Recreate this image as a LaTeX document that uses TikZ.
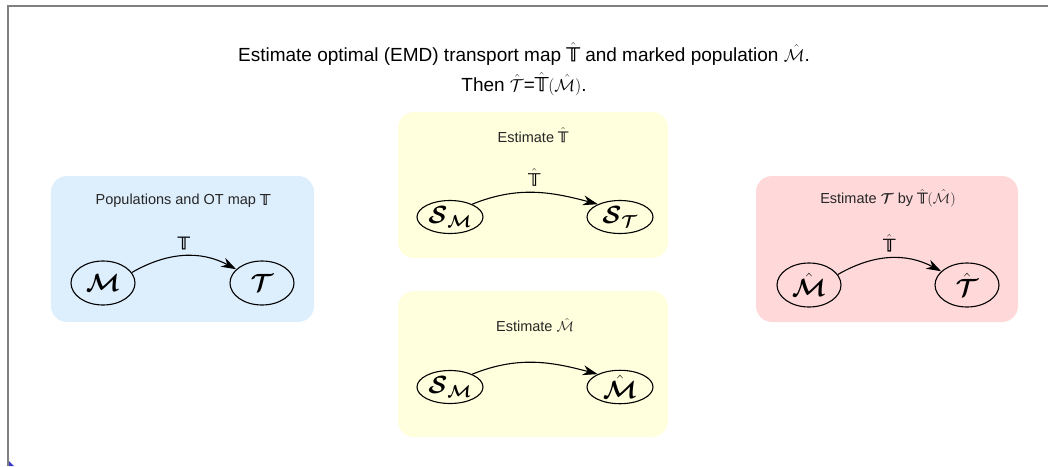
\documentclass[tikz,border=0pt]{standalone}
\usepackage{amsmath,amssymb,bm}
\usepackage{fontspec}
\setmainfont{Liberation Sans}
\newfontface\dejavu[FakeBold=1.2]{DejaVu Sans}
\usetikzlibrary{shapes.geometric,arrows.meta}

% double-struck T set from DejaVu Sans, usable inside math
\newcommand{\mapT}{\text{\dejavu 𝕋}}

\definecolor{paneblue}{RGB}{221,238,253}
\definecolor{paneyellow}{RGB}{255,255,221}
\definecolor{panepink}{RGB}{255,217,218}
\definecolor{framegray}{RGB}{128,128,128}

\tikzset{
  pane/.style={rounded corners=16pt, draw=none},
  pop/.style={ellipse, draw, line width=1.1pt, inner sep=0pt,
              minimum width=64pt, minimum height=44pt, font=\fontsize{23}{25}\selectfont},
  smallpop/.style={pop, minimum width=66pt, minimum height=33pt},
  panetitle/.style={font=\fontsize{14.5}{17}\selectfont, text=black!85},
  maplabel/.style={font=\fontsize{17}{19}\selectfont},
  mapto/.style={-{Stealth[length=15pt,width=10pt]}, line width=1.1pt},
}

\begin{document}
\begin{tikzpicture}[x=1pt,y=-1pt]
\useasboundingbox (0,0) rectangle (1048,466);

% frame edges
\draw[framegray, line width=2pt] (8,466) -- (8,6) -- (1048,6);
\fill[blue!55!gray] (9,461) -- (14,466) -- (9,466) -- cycle;

% heading
\node[font=\fontsize{19}{22}\selectfont] (head1) at (524,54)
  {Estimate optimal (EMD) transport map $\hat{\mapT}$ and marked population $\hat{\mathcal{M}}$.};
\node[font=\fontsize{19}{22}\selectfont] (head2) at (524,84)
  {Then $\hat{\mathcal{T}}$=$\hat{\mapT}(\hat{\mathcal{M}})$.};

% panes
\fill[pane, paneblue]   (51,176)  rectangle (314,322);
\fill[pane, paneyellow] (398,112) rectangle (668,258);
\fill[pane, paneyellow] (398,291) rectangle (668,437);
\fill[pane, panepink]   (756,176) rectangle (1018,322);

% populations and the true map
\node[panetitle] (t1) at (183,201) {Populations and OT map $\mapT$};
\node[pop] (M) at (103,283) {$\bm{\mathcal{M}}$};
\node[pop] (T) at (262,283) {$\bm{\mathcal{T}}$};
\draw[mapto] (M.20) to[out=30,in=152]
  node[maplabel, pos=0.5, above=3pt] (lT) {$\mapT$} (T.152);

% estimated map from samples
\node[panetitle] (t2) at (533,135) {Estimate $\hat{\mapT}$};
\node[smallpop] (SM1) at (450,217) {$\bm{\mathcal{S}}_{\bm{\mathcal{M}}}$};
\node[smallpop] (ST)  at (620,217) {$\bm{\mathcal{S}}_{\bm{\mathcal{T}}}$};
\draw[mapto] (SM1.30) to[out=22,in=165]
  node[maplabel, pos=0.5, above=3pt] (lTh1) {$\hat{\mapT}$} (ST.150);

% estimated marked population
\node[panetitle] (t3) at (535,325) {Estimate $\hat{\mathcal{M}}$};
\node[smallpop] (SM2) at (450,387) {$\bm{\mathcal{S}}_{\bm{\mathcal{M}}}$};
\node[smallpop] (Mh1) at (620,387) {$\hat{\bm{\mathcal{M}}}$};
\draw[mapto] (SM2.30) to[out=22,in=165] (Mh1.150);

% resulting estimate
\node[panetitle] (t4) at (888,198) {Estimate $\bm{\mathcal{T}}$ by $\hat{\mapT}(\hat{\mathcal{M}})$};
\node[pop] (Mh2) at (809,285) {$\hat{\bm{\mathcal{M}}}$};
\node[pop] (Th)  at (967,285) {$\hat{\bm{\mathcal{T}}}$};
\draw[mapto] (Mh2.20) to[out=30,in=152]
  node[maplabel, pos=0.5, above=3pt] (lTh2) {$\hat{\mapT}$} (Th.152);
\end{tikzpicture}
\end{document}
